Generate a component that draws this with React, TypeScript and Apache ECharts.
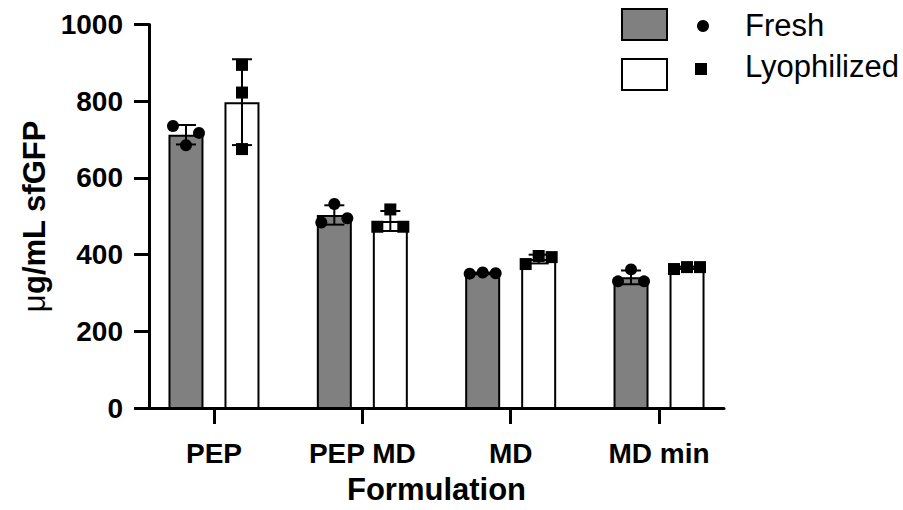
import React, { useEffect, useRef } from 'react';
import * as echarts from 'echarts';

const categories = ['PEP', 'PEP MD', 'MD', 'MD min'];
const seriesNames = ['Fresh', 'Lyophilized'];
// replicate values (left, centre, right order as plotted)
const freshReplicates = [
  [736, 686, 718],
  [485, 533, 496],
  [352, 355, 353],
  [332, 363, 332],
];
const lyophilizedReplicates = [
  [895, 823, 676],
  [474, 519, 474],
  [377, 398, 395],
  [364, 369, 369],
];
const yTicks = [0, 200, 400, 600, 800, 1000];

const FONT = '"Liberation Sans", Arial, Helvetica, sans-serif';
const BAR_W = 35;
const BAR_GAP = 21;
const HALF_STEP = (BAR_W + BAR_GAP) / 2;

const mean = (a: number[]) => a.reduce((s, v) => s + v, 0) / a.length;
const sd = (a: number[]) => {
  const m = mean(a);
  return Math.sqrt(a.reduce((s, v) => s + (v - m) * (v - m), 0) / (a.length - 1));
};

function makeRender(offset: number, symbol: 'circle' | 'square') {
  return (params: any, api: any) => {
    const cat = api.value(0);
    const m = api.value(1);
    const s = api.value(2);
    const pts = [api.value(3), api.value(4), api.value(5)];
    const c = api.coord([cat, m]);
    const x = c[0] + offset;
    const yTop = api.coord([cat, m + s])[1];
    const yBot = api.coord([cat, m - s])[1];
    const children: any[] = [];
    const ls = { stroke: '#000', lineWidth: 2 };
    if (s > 0.5) {
      children.push({ type: 'line', shape: { x1: x, y1: yTop, x2: x, y2: yBot }, style: ls });
      children.push({ type: 'line', shape: { x1: x - 10, y1: yTop, x2: x + 10, y2: yTop }, style: ls });
      children.push({ type: 'line', shape: { x1: x - 10, y1: yBot, x2: x + 10, y2: yBot }, style: ls });
    }
    const ys = pts.map((p) => api.coord([cat, p])[1]);
    let crowded = false;
    for (let i = 0; i < ys.length; i++)
      for (let j = i + 1; j < ys.length; j++) if (Math.abs(ys[i] - ys[j]) < 14) crowded = true;
    const dx = crowded ? [-13, 0, 13] : [0, 0, 0];
    ys.forEach((y, i) => {
      const px = x + dx[i];
      if (symbol === 'circle')
        children.push({ type: 'circle', shape: { cx: px, cy: y, r: 6 }, style: { fill: '#000' } });
      else
        children.push({ type: 'rect', shape: { x: px - 6, y: y - 6, width: 12, height: 12 }, style: { fill: '#000' } });
    });
    return { type: 'group', children };
  };
}

export default function App() {
  const ref = useRef<HTMLDivElement>(null);
  useEffect(() => {
    if (!ref.current) return;
    const chart = echarts.init(ref.current, undefined, { renderer: 'svg' });
    const freshData = freshReplicates.map((r, i) => [i, mean(r), sd(r), ...r]);
    const lyoData = lyophilizedReplicates.map((r, i) => [i, mean(r), sd(r), ...r]);
    const axisText = { fontSize: 28, fontWeight: 'bold', color: '#000', fontFamily: FONT };
    const option: any = {
      animation: false,
      backgroundColor: '#fff',
      grid: [
        { left: 139.8, width: 593.4, top: 24.5, height: 384.5 },
        { left: 149, width: 575, top: 24.5, height: 384.5 },
      ],
      xAxis: [
        {
          type: 'category',
          gridIndex: 0,
          data: categories,
          axisLine: { show: false },
          axisTick: { show: true, alignWithLabel: true, length: 15, lineStyle: { color: '#000', width: 3 } },
          axisLabel: { ...axisText, margin: 30, interval: 0 },
          splitLine: { show: false },
        },
        {
          type: 'value',
          gridIndex: 1,
          min: 0,
          max: 1,
          axisLine: { show: true, onZero: false, lineStyle: { color: '#000', width: 3 } },
          axisTick: { show: false },
          axisLabel: { show: false },
          splitLine: { show: false },
          name: 'Formulation',
          nameLocation: 'middle',
          nameGap: 66,
          nameTextStyle: { fontSize: 31, fontWeight: 'bold', color: '#000', fontFamily: FONT },
        },
      ],
      yAxis: [
        { type: 'value', gridIndex: 0, min: 0, max: 1000, show: false },
        {
          type: 'value',
          gridIndex: 1,
          min: yTicks[0],
          max: yTicks[yTicks.length - 1],
          interval: yTicks[1] - yTicks[0],
          axisLine: { show: true, onZero: false, lineStyle: { color: '#000', width: 3 } },
          axisTick: { show: true, length: 15, lineStyle: { color: '#000', width: 3 } },
          axisLabel: { ...axisText, margin: 26, formatter: (v: number) => String(v) },
          splitLine: { show: false },
          name: '{mu|μ}g/mL sfGFP',
          nameLocation: 'middle',
          nameRotate: 90,
          nameGap: 97,
          nameTextStyle: {
            fontSize: 31,
            fontWeight: 'bold',
            color: '#000',
            fontFamily: FONT,
            rich: { mu: { fontSize: 31, fontWeight: 'normal', color: '#000', fontFamily: FONT } },
          },
        },
      ],
      series: [
        {
          name: seriesNames[0],
          type: 'bar',
          xAxisIndex: 0,
          yAxisIndex: 0,
          data: freshData.map((d) => d[1]),
          barWidth: BAR_W,
          barGap: `${(BAR_GAP / BAR_W) * 100}%`,
          itemStyle: { color: '#808080', borderColor: '#000', borderWidth: 2 },
        },
        {
          name: seriesNames[1],
          type: 'bar',
          xAxisIndex: 0,
          yAxisIndex: 0,
          data: lyoData.map((d) => d[1]),
          barWidth: BAR_W,
          barGap: `${(BAR_GAP / BAR_W) * 100}%`,
          itemStyle: { color: '#ffffff', borderColor: '#000', borderWidth: 2 },
        },
        {
          type: 'custom',
          xAxisIndex: 0,
          yAxisIndex: 0,
          data: freshData,
          encode: { x: 0, y: 1 },
          renderItem: makeRender(-HALF_STEP, 'circle'),
          z: 5,
        },
        {
          type: 'custom',
          xAxisIndex: 0,
          yAxisIndex: 0,
          data: lyoData,
          encode: { x: 0, y: 1 },
          renderItem: makeRender(HALF_STEP, 'square'),
          z: 5,
        },
      ],
      graphic: [
        { type: 'rect', shape: { x: 622, y: 9, width: 45, height: 31 }, style: { fill: '#808080', stroke: '#000', lineWidth: 2 } },
        { type: 'rect', shape: { x: 622, y: 59, width: 45, height: 31 }, style: { fill: '#fff', stroke: '#000', lineWidth: 2 } },
        { type: 'circle', shape: { cx: 703, cy: 26, r: 6 }, style: { fill: '#000' } },
        { type: 'rect', shape: { x: 695, y: 63, width: 12, height: 12 }, style: { fill: '#000' } },
        {
          type: 'text',
          x: 745,
          y: 25.5,
          style: { text: seriesNames[0], fontSize: 31, fontFamily: FONT, fill: '#000', verticalAlign: 'middle', align: 'left' },
        },
        {
          type: 'text',
          x: 745,
          y: 66,
          style: { text: seriesNames[1], fontSize: 31, fontFamily: FONT, fill: '#000', verticalAlign: 'middle', align: 'left' },
        },
      ],
    };
    chart.setOption(option);
    return () => chart.dispose();
  }, []);
  return <div ref={ref} style={{ position: 'absolute', left: 0, top: 0, width: 903, height: 510 }} />;
}
